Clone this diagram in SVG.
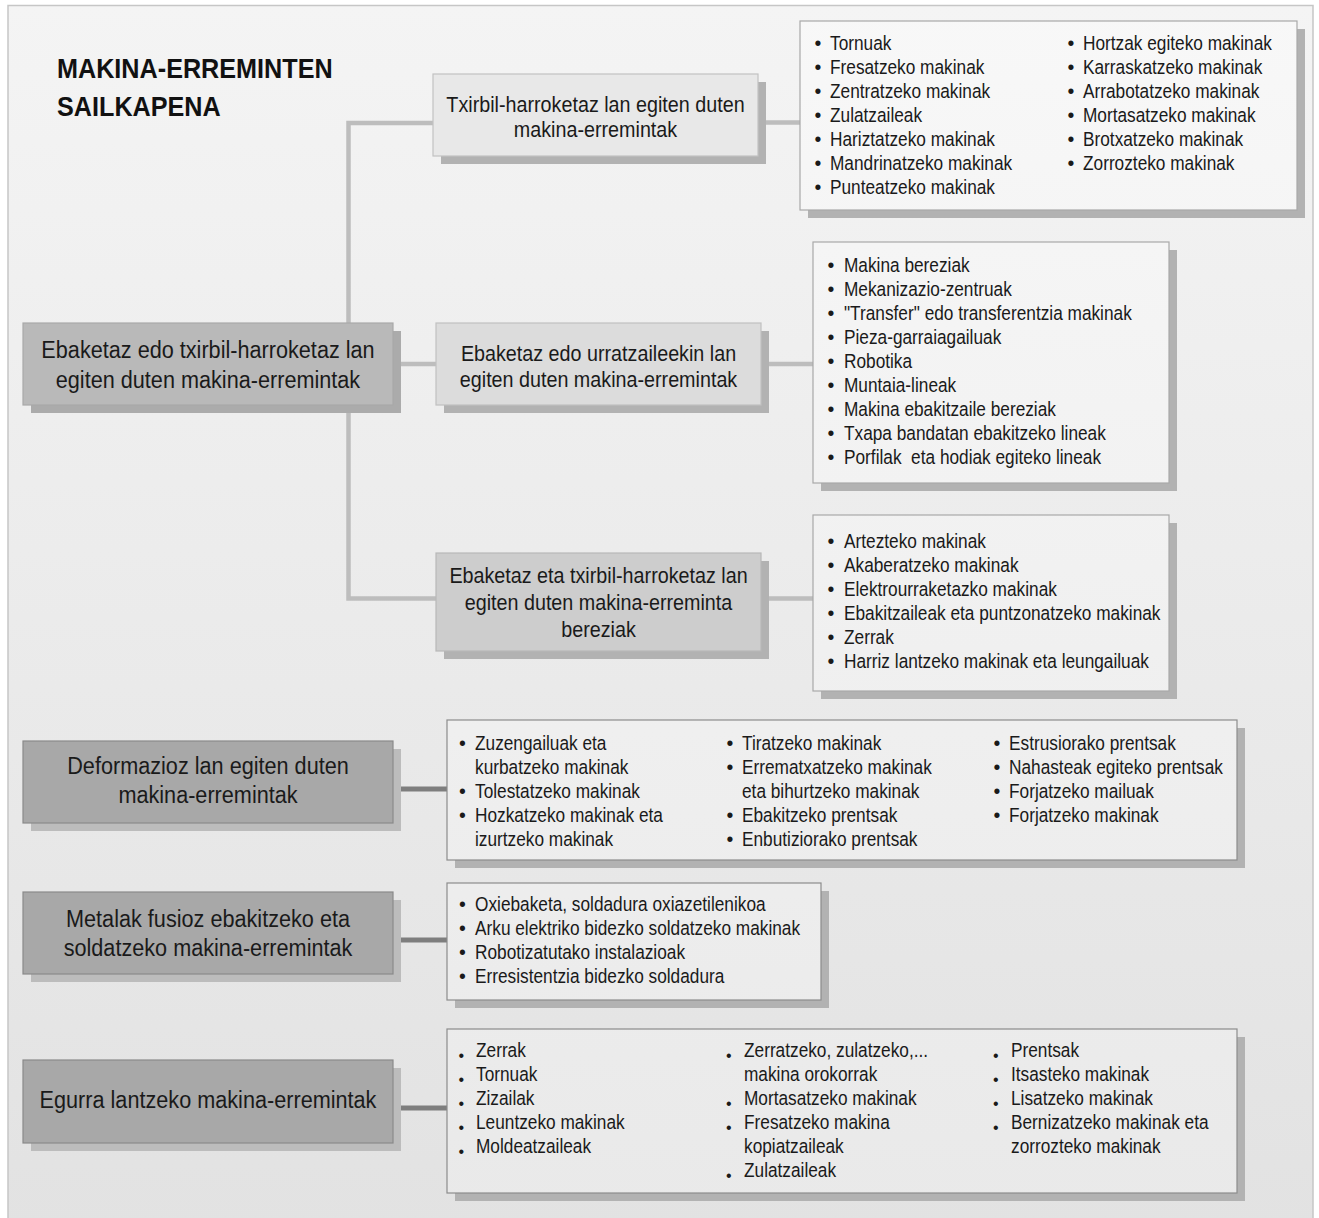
<svg xmlns="http://www.w3.org/2000/svg" width="1319" height="1218" viewBox="0 0 1319 1218">
<defs>
<linearGradient id="bg" x1="0" y1="0" x2="0" y2="1">
<stop offset="0" stop-color="#f4f4f4"/>
<stop offset="1" stop-color="#e2e2e2"/>
</linearGradient>
<linearGradient id="lf" gradientUnits="userSpaceOnUse" x1="0" y1="0" x2="0" y2="1218">
<stop offset="0" stop-color="#f8f8f8"/>
<stop offset="1" stop-color="#e9e9e9"/>
</linearGradient>
<style>
text{font-family:"Liberation Sans",Arial,sans-serif;fill:#1a1a1a}
.ttl{font-size:28px;font-weight:bold;fill:#111}
.lb{font-size:24.5px;text-anchor:middle}
.md{font-size:22.3px;text-anchor:middle}
.i{font-size:19.5px}
.b{font-size:19.5px}
.b2{font-size:16px}
.sh{fill:#b2b2b2}
.lst{fill:url(#lf);stroke:#a8a8a8;stroke-width:1.2}
.lst2{fill:url(#lf);stroke:#8c8c8c;stroke-width:1.2}
.dk{fill:#a8a8a8;stroke:#8a8a8a;stroke-width:1.2}
.dsh{fill:#bcbcbc}
.c1{fill:none;stroke:#bdbdbd;stroke-width:4.5}
.c2{fill:none;stroke:#7e7e7e;stroke-width:5}
</style>
</defs>
<rect x="0" y="0" width="1319" height="1218" fill="#ffffff"/>
<rect x="8" y="5.5" width="1305" height="1225" fill="url(#bg)" stroke="#c6c6c6" stroke-width="1.5"/>

<g id="title">
<text class="ttl" transform="translate(57 78) scale(.9 1)">MAKINA-ERREMINTEN</text>
<text class="ttl" transform="translate(57 116) scale(.9 1)">SAILKAPENA</text>
</g>

<g id="connectors">
<path class="c1" d="M433 123 H348.5 V598.5 H436"/>
<path class="c1" d="M401 364 H436"/>
<path class="c1" d="M765 122.5 H800"/>
<path class="c1" d="M768 364 H813"/>
<path class="c1" d="M768 598.5 H813"/>
<path class="c2" d="M401 789 H447"/>
<path class="c2" d="M401 940 H447"/>
<path class="c2" d="M401 1108 H447"/>
</g>

<g id="root">
<rect x="31" y="331" width="370" height="82" fill="#ababab"/>
<rect x="23" y="323" width="370" height="82" fill="#b9b9b9" stroke="#a9a9a9" stroke-width="1.2"/>
<text class="lb" transform="translate(208 358) scale(.884 1)">Ebaketaz edo txirbil-harroketaz lan</text>
<text class="lb" transform="translate(208 388) scale(.884 1)">egiten duten makina-erremintak</text>
</g>

<g id="txirbil">
<rect x="441" y="82" width="325" height="82" class="sh"/>
<rect x="433" y="74" width="325" height="82" fill="#e8e8e8" stroke="#c2c2c2" stroke-width="1.2"/>
<text class="md" transform="translate(595.5 112) scale(.885 1)">Txirbil-harroketaz lan egiten duten</text>
<text class="md" transform="translate(595.5 137) scale(.885 1)">makina-erremintak</text>
</g>

<g id="urratzaile">
<rect x="444" y="331" width="325" height="82" class="sh"/>
<rect x="436" y="323" width="325" height="82" fill="#dcdcdc" stroke="#c0c0c0" stroke-width="1.2"/>
<text class="md" transform="translate(598.5 361) scale(.885 1)">Ebaketaz edo urratzaileekin lan</text>
<text class="md" transform="translate(598.5 387) scale(.885 1)">egiten duten makina-erremintak</text>
</g>

<g id="bereziak">
<rect x="444" y="561" width="325" height="98" class="sh"/>
<rect x="436" y="553" width="325" height="98" fill="#cdcdcd" stroke="#b8b8b8" stroke-width="1.2"/>
<text class="md" transform="translate(598.5 583) scale(.885 1)">Ebaketaz eta txirbil-harroketaz lan</text>
<text class="md" transform="translate(598.5 610) scale(.885 1)">egiten duten makina-erreminta</text>
<text class="md" transform="translate(598.5 637) scale(.885 1)">bereziak</text>
</g>

<g id="list-txirbil">
<rect x="808" y="29" width="497" height="189" class="sh"/>
<rect x="800" y="21" width="497" height="189" class="lst"/>
<text class="b" x="814.5" y="50">•</text><text class="i" transform="translate(830 50) scale(.885 1)">Tornuak</text>
<text class="b" x="814.5" y="74">•</text><text class="i" transform="translate(830 74) scale(.885 1)">Fresatzeko makinak</text>
<text class="b" x="814.5" y="98">•</text><text class="i" transform="translate(830 98) scale(.885 1)">Zentratzeko makinak</text>
<text class="b" x="814.5" y="122">•</text><text class="i" transform="translate(830 122) scale(.885 1)">Zulatzaileak</text>
<text class="b" x="814.5" y="146">•</text><text class="i" transform="translate(830 146) scale(.885 1)">Hariztatzeko makinak</text>
<text class="b" x="814.5" y="170">•</text><text class="i" transform="translate(830 170) scale(.885 1)">Mandrinatzeko makinak</text>
<text class="b" x="814.5" y="194">•</text><text class="i" transform="translate(830 194) scale(.885 1)">Punteatzeko makinak</text>
<text class="b" x="1067.5" y="50">•</text><text class="i" transform="translate(1083 50) scale(.885 1)">Hortzak egiteko makinak</text>
<text class="b" x="1067.5" y="74">•</text><text class="i" transform="translate(1083 74) scale(.885 1)">Karraskatzeko makinak</text>
<text class="b" x="1067.5" y="98">•</text><text class="i" transform="translate(1083 98) scale(.885 1)">Arrabotatzeko makinak</text>
<text class="b" x="1067.5" y="122">•</text><text class="i" transform="translate(1083 122) scale(.885 1)">Mortasatzeko makinak</text>
<text class="b" x="1067.5" y="146">•</text><text class="i" transform="translate(1083 146) scale(.885 1)">Brotxatzeko makinak</text>
<text class="b" x="1067.5" y="170">•</text><text class="i" transform="translate(1083 170) scale(.885 1)">Zorrozteko makinak</text>
</g>

<g id="list-urratzaile">
<rect x="821" y="250" width="356" height="241" class="sh"/>
<rect x="813" y="242" width="356" height="241" class="lst"/>
<text class="b" x="827.5" y="272">•</text><text class="i" transform="translate(844 272) scale(.885 1)">Makina bereziak</text>
<text class="b" x="827.5" y="296">•</text><text class="i" transform="translate(844 296) scale(.885 1)">Mekanizazio-zentruak</text>
<text class="b" x="827.5" y="320">•</text><text class="i" transform="translate(844 320) scale(.885 1)">"Transfer" edo transferentzia makinak</text>
<text class="b" x="827.5" y="344">•</text><text class="i" transform="translate(844 344) scale(.885 1)">Pieza-garraiagailuak</text>
<text class="b" x="827.5" y="368">•</text><text class="i" transform="translate(844 368) scale(.885 1)">Robotika</text>
<text class="b" x="827.5" y="392">•</text><text class="i" transform="translate(844 392) scale(.885 1)">Muntaia-lineak</text>
<text class="b" x="827.5" y="416">•</text><text class="i" transform="translate(844 416) scale(.885 1)">Makina ebakitzaile bereziak</text>
<text class="b" x="827.5" y="440">•</text><text class="i" transform="translate(844 440) scale(.885 1)">Txapa bandatan ebakitzeko lineak</text>
<text class="b" x="827.5" y="464">•</text><text class="i" xml:space="preserve" transform="translate(844 464) scale(.885 1)">Porfilak  eta hodiak egiteko lineak</text>
</g>

<g id="list-bereziak">
<rect x="821" y="523" width="356" height="176" class="sh"/>
<rect x="813" y="515" width="356" height="176" class="lst"/>
<text class="b" x="827.5" y="548">•</text><text class="i" transform="translate(844 548) scale(.885 1)">Artezteko makinak</text>
<text class="b" x="827.5" y="572">•</text><text class="i" transform="translate(844 572) scale(.885 1)">Akaberatzeko makinak</text>
<text class="b" x="827.5" y="596">•</text><text class="i" transform="translate(844 596) scale(.885 1)">Elektrourraketazko makinak</text>
<text class="b" x="827.5" y="620">•</text><text class="i" transform="translate(844 620) scale(.885 1)">Ebakitzaileak eta puntzonatzeko makinak</text>
<text class="b" x="827.5" y="644">•</text><text class="i" transform="translate(844 644) scale(.885 1)">Zerrak</text>
<text class="b" x="827.5" y="668">•</text><text class="i" transform="translate(844 668) scale(.885 1)">Harriz lantzeko makinak eta leungailuak</text>
</g>

<g id="deformazioz">
<rect x="31" y="749" width="370" height="82" class="dsh"/>
<rect x="23" y="741" width="370" height="82" class="dk"/>
<text class="lb" transform="translate(208 774) scale(.884 1)">Deformazioz lan egiten duten</text>
<text class="lb" transform="translate(208 803) scale(.884 1)">makina-erremintak</text>
</g>

<g id="metalak">
<rect x="31" y="900" width="370" height="82" class="dsh"/>
<rect x="23" y="892" width="370" height="82" class="dk"/>
<text class="lb" transform="translate(208 927) scale(.884 1)">Metalak fusioz ebakitzeko eta</text>
<text class="lb" transform="translate(208 956) scale(.884 1)">soldatzeko makina-erremintak</text>
</g>

<g id="egurra">
<rect x="31" y="1068" width="370" height="83" class="dsh"/>
<rect x="23" y="1060" width="370" height="83" class="dk"/>
<text class="lb" transform="translate(208 1108) scale(.884 1)">Egurra lantzeko makina-erremintak</text>
</g>

<g id="list-deformazioz">
<rect x="455" y="728" width="790" height="140" class="sh"/>
<rect x="447" y="720" width="790" height="140" class="lst2"/>
<text class="b" x="459" y="750">•</text><text class="i" transform="translate(475 750) scale(.885 1)">Zuzengailuak eta</text>
<text class="i" transform="translate(475 774) scale(.885 1)">kurbatzeko makinak</text>
<text class="b" x="459" y="798">•</text><text class="i" transform="translate(475 798) scale(.885 1)">Tolestatzeko makinak</text>
<text class="b" x="459" y="822">•</text><text class="i" transform="translate(475 822) scale(.885 1)">Hozkatzeko makinak eta</text>
<text class="i" transform="translate(475 846) scale(.885 1)">izurtzeko makinak</text>
<text class="b" x="726.5" y="750">•</text><text class="i" transform="translate(742 750) scale(.885 1)">Tiratzeko makinak</text>
<text class="b" x="726.5" y="774">•</text><text class="i" transform="translate(742 774) scale(.885 1)">Errematxatzeko makinak</text>
<text class="i" transform="translate(742 798) scale(.885 1)">eta bihurtzeko makinak</text>
<text class="b" x="726.5" y="822">•</text><text class="i" transform="translate(742 822) scale(.885 1)">Ebakitzeko prentsak</text>
<text class="b" x="726.5" y="846">•</text><text class="i" transform="translate(742 846) scale(.885 1)">Enbutiziorako prentsak</text>
<text class="b" x="993.5" y="750">•</text><text class="i" transform="translate(1009 750) scale(.885 1)">Estrusiorako prentsak</text>
<text class="b" x="993.5" y="774">•</text><text class="i" transform="translate(1009 774) scale(.885 1)">Nahasteak egiteko prentsak</text>
<text class="b" x="993.5" y="798">•</text><text class="i" transform="translate(1009 798) scale(.885 1)">Forjatzeko mailuak</text>
<text class="b" x="993.5" y="822">•</text><text class="i" transform="translate(1009 822) scale(.885 1)">Forjatzeko makinak</text>
</g>

<g id="list-metalak">
<rect x="455" y="891" width="374" height="117" class="sh"/>
<rect x="447" y="883" width="374" height="117" class="lst2"/>
<text class="b" x="459" y="911">•</text><text class="i" transform="translate(475 911) scale(.885 1)">Oxiebaketa, soldadura oxiazetilenikoa</text>
<text class="b" x="459" y="935">•</text><text class="i" transform="translate(475 935) scale(.885 1)">Arku elektriko bidezko soldatzeko makinak</text>
<text class="b" x="459" y="959">•</text><text class="i" transform="translate(475 959) scale(.885 1)">Robotizatutako instalazioak</text>
<text class="b" x="459" y="983">•</text><text class="i" transform="translate(475 983) scale(.885 1)">Erresistentzia bidezko soldadura</text>
</g>

<g id="list-egurra">
<rect x="455" y="1037" width="790" height="164" class="sh"/>
<rect x="447" y="1029" width="790" height="164" class="lst2"/>
<text class="b2" x="458.5" y="1061">•</text><text class="i" transform="translate(476 1057) scale(.885 1)">Zerrak</text>
<text class="b2" x="458.5" y="1085">•</text><text class="i" transform="translate(476 1081) scale(.885 1)">Tornuak</text>
<text class="b2" x="458.5" y="1109">•</text><text class="i" transform="translate(476 1105) scale(.885 1)">Zizailak</text>
<text class="b2" x="458.5" y="1133">•</text><text class="i" transform="translate(476 1129) scale(.885 1)">Leuntzeko makinak</text>
<text class="b2" x="458.5" y="1157">•</text><text class="i" transform="translate(476 1153) scale(.885 1)">Moldeatzaileak</text>
<text class="b2" x="726" y="1061">•</text><text class="i" transform="translate(744 1057) scale(.885 1)">Zerratzeko, zulatzeko,...</text>
<text class="i" transform="translate(744 1081) scale(.885 1)">makina orokorrak</text>
<text class="b2" x="726" y="1109">•</text><text class="i" transform="translate(744 1105) scale(.885 1)">Mortasatzeko makinak</text>
<text class="b2" x="726" y="1133">•</text><text class="i" transform="translate(744 1129) scale(.885 1)">Fresatzeko makina</text>
<text class="i" transform="translate(744 1153) scale(.885 1)">kopiatzaileak</text>
<text class="b2" x="726" y="1181">•</text><text class="i" transform="translate(744 1177) scale(.885 1)">Zulatzaileak</text>
<text class="b2" x="993" y="1061">•</text><text class="i" transform="translate(1011 1057) scale(.885 1)">Prentsak</text>
<text class="b2" x="993" y="1085">•</text><text class="i" transform="translate(1011 1081) scale(.885 1)">Itsasteko makinak</text>
<text class="b2" x="993" y="1109">•</text><text class="i" transform="translate(1011 1105) scale(.885 1)">Lisatzeko makinak</text>
<text class="b2" x="993" y="1133">•</text><text class="i" transform="translate(1011 1129) scale(.885 1)">Bernizatzeko makinak eta</text>
<text class="i" transform="translate(1011 1153) scale(.885 1)">zorrozteko makinak</text>
</g>
</svg>
